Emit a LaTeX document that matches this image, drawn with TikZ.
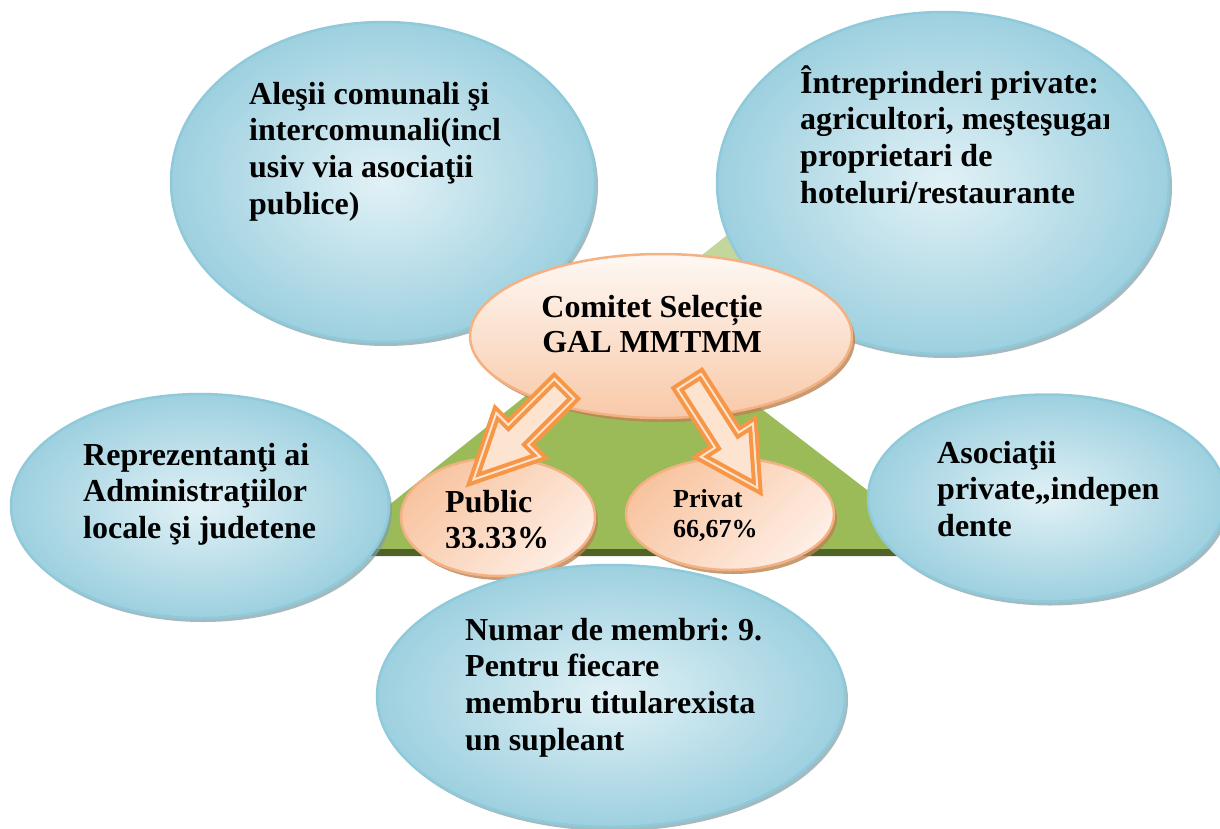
\documentclass[tikz,border=0pt]{standalone}
\usepackage{fontspec}
\setmainfont{Liberation Serif}
\usetikzlibrary{shapes.geometric,shadows}
\definecolor{bubDraw}{HTML}{8FCADB}
\definecolor{bubIn}{HTML}{E1F1F6}
\definecolor{bubOut}{HTML}{9DD0DF}
\definecolor{bubShadow}{HTML}{7E9EA8}
\definecolor{orDraw}{HTML}{F4B183}
\definecolor{orTop}{HTML}{FEF8F4}
\definecolor{orBot}{HTML}{F8C9A8}
\definecolor{orPeach}{HTML}{F8C4A0}
\definecolor{orLight}{HTML}{FEEEE5}
\definecolor{orShadow}{HTML}{B98453}
\definecolor{arrOr}{HTML}{F79646}
\definecolor{arrPale}{HTML}{FDE4D0}
\definecolor{grMain}{HTML}{9BBB59}
\definecolor{grLight}{HTML}{C3D69B}
\definecolor{grDark}{HTML}{4F6228}
\begin{document}
\begin{tikzpicture}[x=1pt,y=-1pt,
  bubble/.style={ellipse, draw=bubDraw, line width=2.5pt, shading=radial,
    inner color=bubIn, outer color=bubOut, inner sep=0pt,
    drop shadow={shadow xshift=3pt, shadow yshift=-4pt, fill=bubShadow, opacity=0.7}},
  core/.style={ellipse, draw=orDraw, line width=2.5pt, inner sep=0pt,
    drop shadow={shadow xshift=3pt, shadow yshift=-4pt, fill=orShadow, opacity=0.8}},
  txt/.style={font=\fontsize{32}{36.6}\selectfont\bfseries\frenchspacing, align=left, inner sep=0pt},
  blockarrow/.style={draw=arrOr, line width=4pt, double=arrPale, double distance=2pt,
    fill=arrPale, line join=miter}
]
\useasboundingbox[fill=white] (0,0) rectangle (1220,828);

% green background
\fill[grLight] (633,310) -- (520,222) -- (540,300) -- cycle;
\fill[grLight] (633,310) -- (790,185) -- (830,290) -- cycle;
\fill[grMain] (633,310) -- (949,553) -- (329,553) -- cycle;
\fill[grDark] (335,549) -- (943,549) -- (951,556) -- (327,556) -- cycle;

% outer bubbles
\node[bubble, minimum width=424pt, minimum height=320pt] (tl) at (383,182) {};
\node[bubble, minimum width=452pt, minimum height=342pt] (tr) at (943,183) {};
\node[bubble, minimum width=378pt, minimum height=224pt] (lf) at (200,506) {};
\node[bubble, minimum width=358pt, minimum height=207pt] (rt) at (1047,498) {};

% central ellipses
\node[core, top color=orTop, bottom color=orBot, minimum width=382pt, minimum height=164pt] (com) at (661,336) {};
\node[core, top color=orPeach, bottom color=orLight, shading angle=45, minimum width=194pt, minimum height=118pt] (pub) at (498,517) {};
\node[core, top color=orPeach, bottom color=orLight, shading angle=45, minimum width=208pt, minimum height=112pt] (prv) at (730,514) {};

% bottom bubble
\node[bubble, minimum width=468pt, minimum height=262pt] (bt) at (611,696) {};

% block arrows
\draw[blockarrow] (574.1,398.7) -- (528.1,444.7) -- (540.1,456.7) -- (473.5,479.5)
  -- (496.3,412.9) -- (508.3,424.9) -- (554.3,378.9) -- cycle;
\draw[blockarrow] (701.0,373.9) -- (738.6,432.6) -- (752.9,423.4) -- (757.3,487.8)
  -- (700.7,456.8) -- (715.0,447.6) -- (677.4,388.9) -- cycle;

% texts
\node[txt, anchor=north west] (tltext) at (249,74)
  {\rule{0pt}{30pt}Aleşii comunali şi\\intercomunali(incl\\usiv via asociaţii\\publice)};
\begin{scope}
\clip (790,40) rectangle (1108,230);
\node[txt, anchor=north west] (trtext) at (800,63)
  {\rule{0pt}{30pt}Întreprinderi private:\\agricultori, meşteşugari,\\proprietari de\\hoteluri/restaurante};
\end{scope}
\node[txt, anchor=north west] (lftext) at (83,435)
  {\rule{0pt}{30pt}Reprezentanţi ai\\Administraţiilor\\locale şi judetene};
\node[txt, anchor=north west] (rttext) at (937,433)
  {\rule{0pt}{30pt}Asociaţii\\private,,indepen\\dente};
\node[txt, anchor=north west] (bttext) at (465,610)
  {\rule{0pt}{30pt}Numar de membri: 9.\\Pentru fiecare\\membru titularexista\\un supleant};
\node[txt, font=\fontsize{32}{35}\selectfont\bfseries\frenchspacing, align=center, anchor=north] (comtext) at (652,287)
  {\rule{0pt}{30pt}Comitet Selecție\\GAL MMTMM};
\begin{scope}
\clip (420,470) rectangle (600,547);
\node[txt, anchor=north west] (pubtext) at (445,482)
  {\rule{0pt}{30pt}Public\\33.33\%};
\end{scope}
\node[txt, font=\fontsize{26}{30}\selectfont\bfseries\frenchspacing, anchor=north west] (prvtext) at (673,482)
  {\rule{0pt}{25pt}Privat\\66,67\%};
\end{tikzpicture}
\end{document}
